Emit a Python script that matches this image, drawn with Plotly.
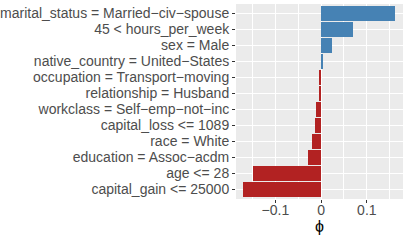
import plotly.graph_objects as go

features = [
    "marital_status = Married−civ−spouse",
    "45 < hours_per_week",
    "sex = Male",
    "native_country = United−States",
    "occupation = Transport−moving",
    "relationship = Husband",
    "workclass = Self−emp−not−inc",
    "capital_loss <= 1089",
    "race = White",
    "education = Assoc−acdm",
    "age <= 28",
    "capital_gain <= 25000",
]
phi = [0.162, 0.0707, 0.0248, 0.005, -0.0044, -0.005, -0.011, -0.0124, -0.0197, -0.0284, -0.149, -0.170]
colors = ["#4682B4" if v > 0 else "#B22222" for v in phi]

fig = go.Figure(go.Bar(
    x=phi, y=features, orientation="h", width=0.9,
    marker=dict(color=colors, line=dict(width=0)),
))

fig.update_layout(
    width=407, height=242,
    margin=dict(l=236, r=4, t=4, b=43),
    paper_bgcolor="white", plot_bgcolor="#EBEBEB",
    font=dict(family="Liberation Sans, Arial, sans-serif", size=14, color="#4D4D4D"),
    showlegend=False,
    bargap=0,
)
fig.update_xaxes(
    automargin=False,
    range=[-0.186, 0.179],
    tickvals=[-0.1, 0, 0.1], ticktext=["−0.1", "0", "0.1"],
    ticks="outside", ticklen=3, tickcolor="#333333", tickwidth=1,
    ticklabelstandoff=-5,
    showgrid=True, gridcolor="white", gridwidth=1.2,
    minor=dict(tickvals=[-0.15, -0.05, 0.05, 0.15], showgrid=True, gridcolor="white", gridwidth=0.6, ticks=""),
    zeroline=False, showline=False,
    title=dict(text="ϕ", font=dict(size=16, color="black"), standoff=0),
    tickfont=dict(size=14, color="#4D4D4D"),
)
fig.update_yaxes(
    automargin=False,
    categoryorder="array", categoryarray=features,
    tickmode="array", tickvals=features,
    range=[11.6, -0.6],
    ticks="outside", ticklen=3, tickcolor="#333333", tickwidth=1,
    showgrid=True, gridcolor="white", gridwidth=1.2,
    zeroline=False, showline=False,
    tickfont=dict(size=14, color="#4D4D4D"),
)

fig.write_html("out.html", config={"displayModeBar": False},
               post_script="document.body.style.margin='0';document.body.style.overflow='hidden';")
